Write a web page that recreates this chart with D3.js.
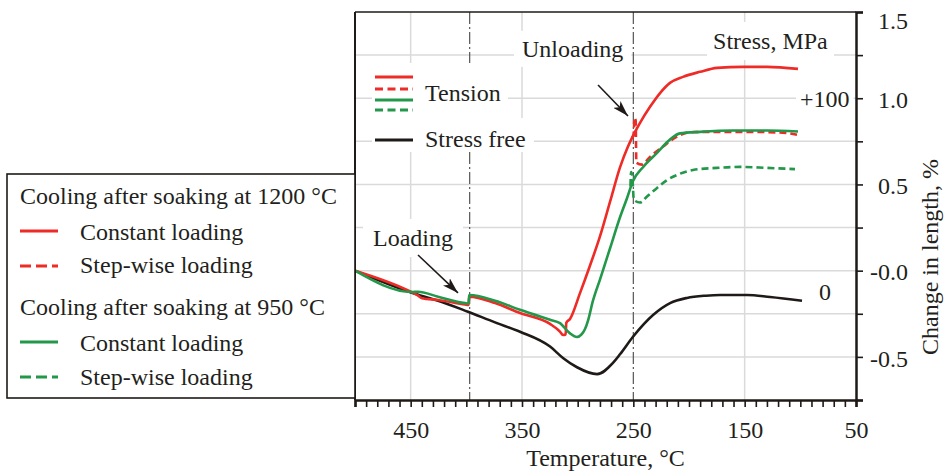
<!DOCTYPE html>
<html>
<head>
<meta charset="utf-8">
<title>Change in length vs temperature</title>
<script src="https://d3js.org/d3.v7.min.js"></script>
<style>
    body { margin: 0; background: #fff; }
    svg text { font-family: "Liberation Serif", "Times New Roman", serif; font-size: 24px; fill: #231f20; }
    .grid { stroke: #dadada; stroke-width: 1.5; }
    .dashdot { stroke: #555; stroke-width: 1.2; stroke-dasharray: 12,3,2,3; }
    .curve { fill: none; stroke-width: 2.6; stroke-linejoin: round; stroke-linecap: butt; }
</style>
</head>
<body>
<svg id="chart" width="945" height="472"></svg>
<script>
    // [temperature °C, change in length %]
    const stressFree = [[500, 0], [449, -0.128], [438, -0.15], [425.4, -0.174], [398.5, -0.238], [374.2, -0.30],
        [351.8, -0.354], [324.8, -0.44], [313.2, -0.506], [300.6, -0.56], [282.6, -0.60], [268.3, -0.535],
        [262, -0.485], [250.3, -0.383], [232.3, -0.257], [217, -0.188], [201.8, -0.158], [185, -0.145],
        [172.1, -0.141], [147.9, -0.141], [127.2, -0.153], [98.5, -0.174]];

    const red1200Const = [[500, 0], [449, -0.125], [444.3, -0.141], [439.8, -0.160], [425.4, -0.170],
        [401.2, -0.196], [398.0, -0.199], [397.4, -0.151], [374.2, -0.188], [351.8, -0.246], [324.8, -0.309],
        [315.9, -0.353], [313.2, -0.373], [310.8, -0.37], [310.2, -0.303], [306.9, -0.28], [297.9, -0.13],
        [288.9, 0.03], [279.9, 0.2], [270.9, 0.40], [261.9, 0.60], [254.8, 0.72], [251.2, 0.77],
        [244.0, 0.857], [235.0, 0.95], [226.0, 1.03], [217.1, 1.089], [205.4, 1.124], [190.1, 1.153],
        [174.8, 1.176], [151.5, 1.182], [129.9, 1.182], [102.1, 1.17]];

    const red1200Step = [[251.2, 0.77], [249.6, 0.79], [249.0, 0.886], [247.9, 0.87], [247.3, 0.626],
        [242.2, 0.615], [235.0, 0.66], [223.3, 0.72], [210.8, 0.777], [201.8, 0.80], [190.1, 0.805],
        [174.8, 0.805], [145.2, 0.805], [115.6, 0.80], [103.0, 0.788]];

    const green950Const = [[500, 0], [449, -0.124], [443.4, -0.122], [425.4, -0.151], [401.2, -0.188],
        [398.0, -0.19], [397.4, -0.141], [374.2, -0.174], [351.8, -0.227], [324.8, -0.285], [315.9, -0.304],
        [307.2, -0.362], [300.6, -0.385], [296.5, -0.37], [293.5, -0.34], [290.5, -0.285], [286.5, -0.18],
        [279.9, -0.05], [270.9, 0.13], [261.9, 0.311], [255.7, 0.42], [250.3, 0.52], [241.3, 0.60],
        [228.7, 0.683], [217.1, 0.76], [208.1, 0.796], [190.1, 0.805], [160.5, 0.813], [129.9, 0.813],
        [102.1, 0.807]];

    const green950Step = [[252.6, 0.49], [252.0, 0.572], [251.0, 0.55], [249.5, 0.41], [244.0, 0.395],
        [237.7, 0.43], [228.7, 0.48], [219.8, 0.525], [210.8, 0.555], [196.4, 0.584], [174.8, 0.596],
        [154.2, 0.602], [129.9, 0.596], [104.8, 0.589]];

    const xTicks = d3.range(500, 49, -10);
    const xLabels = [450, 350, 250, 150, 50];
    const yTicks = d3.range(-3, 7).map(i => i * 0.25);
    const xGrid = [450, 350, 150];
    const yGrid = [-0.5, -0.25, 0, 0.25, 0.5, 0.75, 1.0, 1.25];
    const eventTemps = [397, 250];

    const RED = "#ee2b26", GREEN = "#23984a", BLACK = "#1f1a17";

    const svg = d3.select("#chart");
    const x = d3.scaleLinear().domain([500, 50]).range([355, 856]);
    const y = d3.scaleLinear().domain([-0.75, 1.5]).range([400, 12]);

    // grid
    svg.append("g").selectAll("line").data(yGrid).join("line")
        .attr("class", "grid")
        .attr("x1", x(500)).attr("x2", x(50))
        .attr("y1", d => y(d)).attr("y2", d => y(d));
    svg.append("g").selectAll("line").data(xGrid).join("line")
        .attr("class", "grid")
        .attr("x1", d => x(d)).attr("x2", d => x(d))
        .attr("y1", y(1.5)).attr("y2", y(-0.75));

    // loading / unloading lines
    svg.append("g").selectAll("line").data(eventTemps).join("line")
        .attr("class", "dashdot")
        .attr("x1", d => x(d)).attr("x2", d => x(d))
        .attr("y1", y(1.5)).attr("y2", y(-0.75));

    // text with a white box behind it
    function boxedText(px, py, str, anchor, pad) {
        const g = svg.append("g");
        const t = g.append("text").attr("x", px).attr("y", py)
            .attr("text-anchor", anchor || "start").text(str);
        const b = t.node().getBBox();
        const p = pad || [4, 3];
        g.insert("rect", "text")
            .attr("x", b.x - p[0]).attr("y", b.y - p[1])
            .attr("width", b.width + 2 * p[0]).attr("height", b.height + 2 * p[1])
            .attr("fill", "#fff");
        return g;
    }

    // inner legend
    svg.append("rect").attr("x", 372).attr("y", 63).attr("width", 136).attr("height", 55).attr("fill", "#fff");
    svg.append("rect").attr("x", 372).attr("y", 118).attr("width", 162).attr("height", 34).attr("fill", "#fff");
    const innerKeys = [
        { y: 77, color: RED, dash: null },
        { y: 89, color: RED, dash: "8,4.5" },
        { y: 100, color: GREEN, dash: null },
        { y: 110, color: GREEN, dash: "8,4.5" },
        { y: 140, color: BLACK, dash: null }
    ];
    svg.append("g").selectAll("line").data(innerKeys).join("line")
        .attr("x1", 375).attr("x2", 413)
        .attr("y1", d => d.y).attr("y2", d => d.y)
        .attr("stroke", d => d.color).attr("stroke-width", 2.8)
        .attr("stroke-dasharray", d => d.dash);
    svg.append("text").attr("x", 425).attr("y", 101).text("Tension");
    svg.append("text").attr("x", 425).attr("y", 147).text("Stress free");

    // annotation labels
    boxedText(x(350), y(1.24), "Unloading", "start", [8, 5]);
    boxedText(x(178.4), y(1.286), "Stress, MPa", "start", [6, 6]);
    boxedText(x(100.3), y(0.95), "+100", "start", [4, 3]);
    boxedText(x(483.8), y(0.143), "Loading", "start", [10, 6]);
    svg.append("text").attr("x", x(77.8)).attr("y", y(-0.17)).attr("text-anchor", "middle").text("0");

    // curves
    const line = d3.line()
        .x(d => x(d[0])).y(d => y(d[1]))
        .curve(d3.curveMonotoneX);
    const series = [
        { data: stressFree, color: BLACK, dash: null },
        { data: red1200Step, color: RED, dash: "7,4" },
        { data: red1200Const, color: RED, dash: null },
        { data: green950Step, color: GREEN, dash: "7,4" },
        { data: green950Const, color: GREEN, dash: null }
    ];
    svg.append("g").selectAll("path").data(series).join("path")
        .attr("class", "curve")
        .attr("d", d => line(d.data))
        .attr("stroke", d => d.color)
        .attr("stroke-dasharray", d => d.dash);

    // arrows
    svg.append("defs").append("marker")
        .attr("id", "arrowhead")
        .attr("viewBox", "0 0 16 10").attr("refX", 16).attr("refY", 5)
        .attr("markerWidth", 16).attr("markerHeight", 10)
        .attr("markerUnits", "userSpaceOnUse").attr("orient", "auto")
        .append("path").attr("d", "M0,0 L16,5 L0,10 L4,5 Z").attr("fill", BLACK);
    const arrows = [
        { from: [443.4, 0.091], to: [407.5, -0.129] },
        { from: [281.7, 1.077], to: [254.8, 0.897] }
    ];
    svg.append("g").selectAll("line").data(arrows).join("line")
        .attr("x1", d => x(d.from[0])).attr("y1", d => y(d.from[1]))
        .attr("x2", d => x(d.to[0])).attr("y2", d => y(d.to[1]))
        .attr("stroke", BLACK).attr("stroke-width", 1.6)
        .attr("marker-end", "url(#arrowhead)");

    // frame
    svg.append("line").attr("x1", x(500)).attr("x2", x(50)).attr("y1", y(1.5)).attr("y2", y(1.5))
        .attr("stroke", BLACK).attr("stroke-width", 1.5);
    svg.append("line").attr("x1", x(500)).attr("x2", x(500)).attr("y1", y(1.5)).attr("y2", y(-0.75))
        .attr("stroke", BLACK).attr("stroke-width", 2);

    // axes
    const xAxis = svg.append("g")
        .attr("transform", `translate(0,${y(-0.75)})`)
        .call(d3.axisBottom(x).tickValues(xTicks).tickSize(7).tickPadding(14)
            .tickFormat(d => xLabels.includes(d) ? d : ""));
    xAxis.select(".domain").attr("stroke", BLACK).attr("stroke-width", 2.5);
    xAxis.selectAll(".tick line").attr("stroke", BLACK).attr("stroke-width", 1.6);

    const yAxis = svg.append("g")
        .attr("transform", `translate(${x(50)},0)`)
        .call(d3.axisRight(y).tickValues(yTicks).tickSize(7)
            .tickFormat(d => Math.round(d * 4) % 2 === 0 ? (d <= 0 ? "-" + Math.abs(d).toFixed(1) : d.toFixed(1)) : ""));
    yAxis.select(".domain").attr("stroke", BLACK).attr("stroke-width", 2.5);
    yAxis.selectAll(".tick line").attr("stroke", BLACK).attr("stroke-width", 1.6);
    yAxis.selectAll(".tick text")
        .attr("x", 52).attr("text-anchor", "end")
        .attr("dy", d => d === 1.5 ? "0.68em" : "0.38em");

    svg.append("text").attr("x", x(275)).attr("y", 466).attr("text-anchor", "middle").text("Temperature, °C");
    svg.append("text").attr("transform", "translate(938,257) rotate(-90)").attr("text-anchor", "middle")
        .text("Change in length, %");

    // outer legend
    const legendRows = [
        { y: 204, label: "Cooling after soaking at 1200 °C", color: null },
        { y: 240, label: "Constant loading", color: RED, dash: null, ly: 231 },
        { y: 273, label: "Step-wise loading", color: RED, dash: "11,5", ly: 266 },
        { y: 315, label: "Cooling after soaking at 950 °C", color: null },
        { y: 351, label: "Constant loading", color: GREEN, dash: null, ly: 342 },
        { y: 385, label: "Step-wise loading", color: GREEN, dash: "11,5", ly: 377 }
    ];
    const legend = svg.append("g");
    legend.append("rect").attr("x", 7).attr("y", 174).attr("width", 348).attr("height", 224)
        .attr("fill", "#fff").attr("stroke", BLACK).attr("stroke-width", 1.6);
    legend.selectAll("text").data(legendRows).join("text")
        .attr("x", d => d.color ? 80 : 20).attr("y", d => d.y).text(d => d.label);
    legend.selectAll("line").data(legendRows.filter(d => d.color)).join("line")
        .attr("x1", 20).attr("x2", 58).attr("y1", d => d.ly).attr("y2", d => d.ly)
        .attr("stroke", d => d.color).attr("stroke-width", 2.8)
        .attr("stroke-dasharray", d => d.dash);
</script>
</body>
</html>
